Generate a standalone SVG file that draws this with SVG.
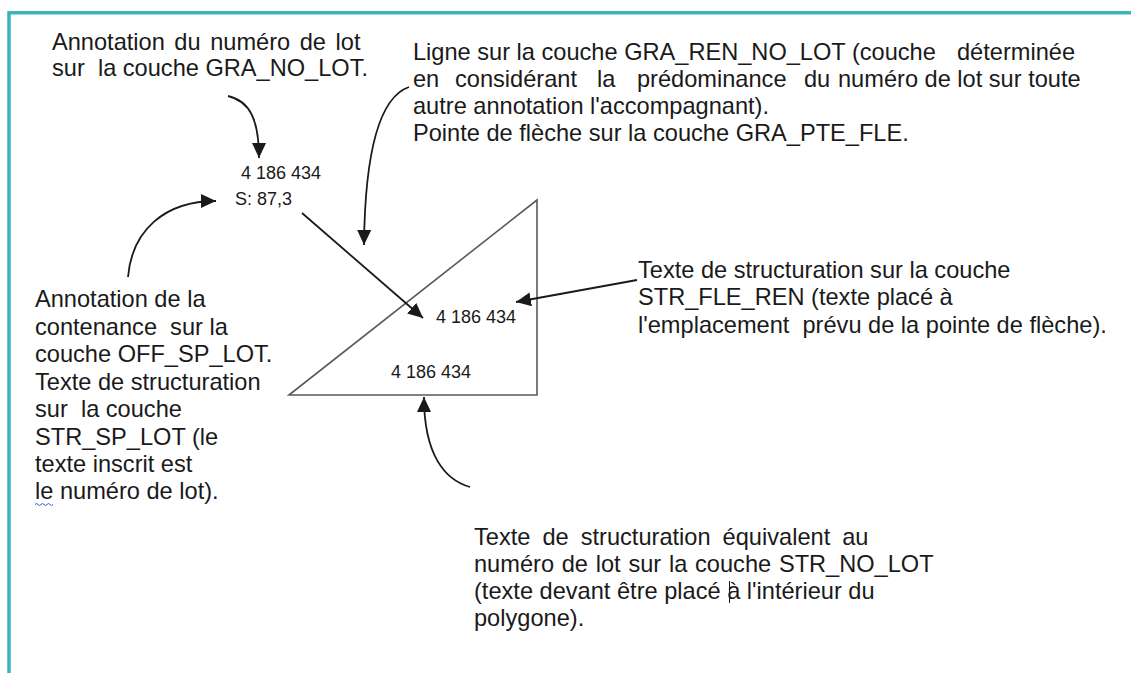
<svg xmlns="http://www.w3.org/2000/svg" width="1131" height="673" viewBox="0 0 1131 673" xml:space="preserve">
<style>
.lbl{font-family:"Liberation Sans",Arial,sans-serif;font-size:23.6px;fill:#1a1a1a;white-space:pre}
.num{font-family:"Liberation Sans",Arial,sans-serif;font-size:18px;fill:#1a1a1a;white-space:pre}
.con{fill:none;stroke:#1a1a1a;stroke-width:1.8;marker-end:url(#ah)}
</style>
<defs>
<marker id="ah" viewBox="0 0 15 14" refX="15" refY="7" markerWidth="15" markerHeight="14" markerUnits="userSpaceOnUse" orient="auto">
<path d="M0,0 L15,7 L0,14 z" fill="#1a1a1a"/>
</marker>
</defs>
<rect width="1131" height="673" fill="#ffffff"/>
<g id="frame">
<path d="M9,690 L9,12.7 L1145,12.7" fill="none" stroke="#3bb4be" stroke-width="3.5"/>
</g>
<g id="polygon">
<path d="M289,395 L537,200 L537,395 Z" fill="none" stroke="#5a5a5a" stroke-width="1.6"/>
</g>
<g id="num-top"><text class="num" x="241" y="179">4 186 434</text></g>
<g id="num-area"><text class="num" x="235" y="205">S: 87,3</text></g>
<g id="num-arrow"><text class="num" x="436" y="323">4 186 434</text></g>
<g id="num-inside"><text class="num" x="391" y="378">4 186 434</text></g>
<g id="label-gra-no-lot">
<text class="lbl" x="52" y="50" word-spacing="3">Annotation du numéro de lot</text>
<text class="lbl" x="52" y="76">sur  la couche GRA_NO_LOT.</text>
</g>
<g id="label-gra-ren">
<text class="lbl" x="413" y="60">Ligne sur la couche GRA_REN_NO_LOT (couche<tspan x="957">déterminée</tspan></text>
<text class="lbl" x="413" y="87">en<tspan x="455">considérant</tspan><tspan x="597">la</tspan><tspan x="637">prédominance</tspan><tspan x="804">du</tspan><tspan x="838">numéro de lot sur toute</tspan></text>
<text class="lbl" x="413" y="114">autre annotation l'accompagnant).</text>
<text class="lbl" x="413" y="140.5">Pointe de flèche sur la couche GRA_PTE_FLE.</text>
</g>
<g id="label-off-sp">
<text class="lbl" x="35" y="307">Annotation de la</text>
<text class="lbl" x="35" y="334.5">contenance  sur la</text>
<text class="lbl" x="35" y="362">couche OFF_SP_LOT.</text>
<text class="lbl" x="35" y="389.5">Texte de structuration</text>
<text class="lbl" x="35" y="417">sur  la couche</text>
<text class="lbl" x="35" y="444.5">STR_SP_LOT (le</text>
<text class="lbl" x="35" y="472">texte inscrit est</text>
<text class="lbl" x="35" y="499">le numéro de lot).</text>
<path d="M35,504.5 q1.5,-2 3,0 t3,0 t3,0 t3,0 t3,0 t3,0" fill="none" stroke="#3a5bd0" stroke-width="1"/>
</g>
<g id="label-str-fle">
<text class="lbl" x="638" y="278">Texte de structuration sur la couche</text>
<text class="lbl" x="638" y="305">STR_FLE_REN (texte placé à</text>
<text class="lbl" x="638" y="332.5">l'emplacement  prévu de la pointe de flèche).</text>
</g>
<g id="label-str-no-lot">
<text class="lbl" x="474" y="545" word-spacing="5.5">Texte de structuration équivalent au</text>
<text class="lbl" x="474" y="572" word-spacing="1.2">numéro de lot sur la couche STR_NO_LOT</text>
<text class="lbl" x="474" y="599">(texte devant être placé à l'intérieur du</text>
<text class="lbl" x="474" y="626">polygone).</text>
<line x1="729.5" y1="581" x2="729.5" y2="603" stroke="#1a1a1a" stroke-width="1"/>
</g>
<g id="connectors">
<path class="con" d="M228,96 C250,101 259,120 259,158"/>
<path class="con" d="M409,87 C380,97 365,150 364,245"/>
<path class="con" d="M128,277 C132,230 165,201 216,201"/>
<path class="con" d="M302,213 L423,318"/>
<path class="con" d="M637,280 L516,302"/>
<path class="con" d="M470,487 C445,480 424,455 424,397"/>
</g>
</svg>
